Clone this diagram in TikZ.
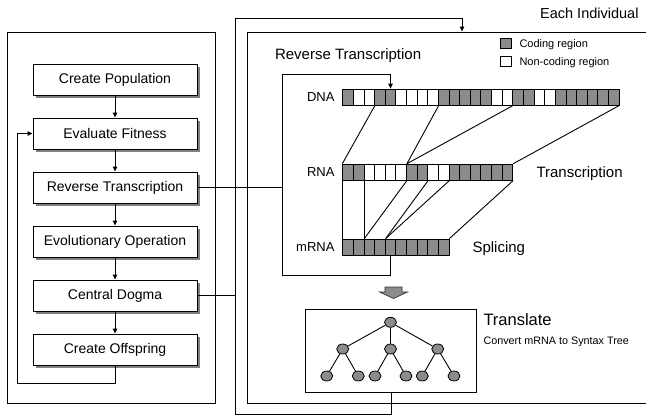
\documentclass[tikz,border=0pt]{standalone}
\usepackage{fontspec}
\setmainfont{Liberation Sans}
\usetikzlibrary{arrows.meta,shadows,shapes.geometric}
\definecolor{codegray}{gray}{0.55}
\colorlet{cG}{codegray}
\colorlet{cW}{white}
\begin{document}
\begin{tikzpicture}[x=1pt,y=-1pt,line width=1pt,
  stepbox/.style={draw,fill=white,minimum width=164pt,minimum height=31pt,inner sep=0pt,
    font=\fontsize{14}{16}\selectfont,
    drop shadow={shadow xshift=3pt,shadow yshift=-3pt,fill=black!50,opacity=1}},
  arr/.style={-{Triangle[length=5pt,width=4.5pt]}},
  cell/.style={draw,minimum width=10.63pt,minimum height=16pt,inner sep=0pt,line width=0.8pt},
  tnode/.style={draw,ellipse,fill=codegray,minimum width=12pt,minimum height=10pt,inner sep=0pt,line width=0.8pt},
  frame/.style={draw,anchor=north west,inner sep=0pt},
  biglbl/.style={font=\fontsize{15}{17}\selectfont,inner sep=0pt},
  strandlbl/.style={font=\fontsize{13}{15}\selectfont,inner sep=0pt,anchor=base east},
  smalllbl/.style={font=\fontsize{11}{13}\selectfont,inner sep=0pt,anchor=base west},
  legbox/.style={draw,minimum width=11pt,minimum height=10pt,inner sep=0pt,line width=0.8pt},
  link/.style={line width=0.9pt}]
\useasboundingbox (0,0) rectangle (646,416);
\clip (0,0) rectangle (646,416);

% left frame and step boxes
\node[frame,minimum width=208pt,minimum height=371pt] (lbox) at (7,32) {};
\node[stepbox] (cp) at (115,79.5) {Create Population};
\node[stepbox] (ef) at (115,133.5) {Evaluate Fitness};
\node[stepbox] (rt) at (115,187.5) {Reverse Transcription};
\node[stepbox] (eo) at (115,241.5) {Evolutionary Operation};
\node[stepbox] (cd) at (115,295.5) {Central Dogma};
\node[stepbox] (co) at (115,349.5) {Create Offspring};
\draw[arr] (cp) -- (ef);
\draw[arr] (ef) -- (rt);
\draw[arr] (rt) -- (eo);
\draw[arr] (eo) -- (cd);
\draw[arr] (cd) -- (co);
\coordinate (lp) at (17,383);
\draw[arr] (co.south) |- (lp) |- (ef.west);

% individual frame
\node[frame,minimum width=460pt,minimum height=371.5pt] (ind) at (247,31.5) {};
\node[font=\fontsize{14.5}{17}\selectfont,inner sep=0pt,anchor=base east] (eachlbl) at (639,18) {Each Individual};

% legend
\node[legbox,fill=codegray] (legG) at (505.75,43.5) {};
\node[legbox,fill=white] (legW) at (505.75,61) {};
\node[smalllbl] (legGt) at (519,47.5) {Coding region};
\node[smalllbl] (legWt) at (519,65) {Non-coding region};

% strands
\foreach \c [count=\i from 0] in {G,W,W,G,G,W,W,W,W,G,G,G,G,G,W,W,G,G,W,W,G,G,G,G,G,G}
  \node[cell,fill=c\c] (dna-\i) at ({348.015+\i*10.63},97) {};
\foreach \c [count=\i from 0] in {G,G,W,W,W,W,G,G,W,W,G,G,G,G,G,G}
  \node[cell,fill=c\c] (rna-\i) at ({348.015+\i*10.63},172.15) {};
\foreach \c [count=\i from 0] in {G,G,G,G,G,G,G,G,G,G}
  \node[cell,fill=c\c] (mrna-\i) at ({348.015+\i*10.63},247) {};

\node[strandlbl] (dnalbl) at (335,101.7) {DNA};
\node[strandlbl] (rnalbl) at (335,176.8) {RNA};
\node[strandlbl] (mrnalbl) at (335,251.7) {mRNA};

% DNA -> RNA
\draw[link] (dna-2.south east) -- (rna-0.north west);
\draw[link] (dna-8.south east) -- (rna-5.north east);
\draw[link] (dna-15.south east) -- (rna-5.north east);
\draw[link] (dna-25.south east) -- (rna-15.north east);
% RNA -> mRNA
\draw[link] (rna-0.south west) -- (mrna-0.north west);
\draw[link] (rna-1.south east) -- (mrna-1.north east);
\draw[link] (rna-5.south east) -- (mrna-1.north east);
\draw[link] (rna-7.south east) -- (mrna-3.north east);
\draw[link] (rna-9.south east) -- (mrna-3.north east);
\draw[link] (rna-15.south east) -- (mrna-9.north east);

\node[biglbl,anchor=base west] (rtlbl) at (274.5,59) {Reverse Transcription};
\node[biglbl,anchor=base west] (trlbl) at (536,177.5) {Transcription};
\node[biglbl,anchor=base west] (splbl) at (472,252) {Splicing};

% reverse transcription loop
\coordinate (rtBL) at (282,275);
\coordinate (rtTL) at (282,74);
\draw[arr] (mrna-4.south) |- (rtBL) -- (rtTL) -- (dna-4.north |- rtTL) -- (dna-4.north);
\draw (rt.east) -- (rt.east -| rtTL);

% block arrow
\filldraw[fill=codegray,draw=black!80,line width=0.7pt]
  (385,287) -- (402,287) -- (402,292) -- (407.5,292) -- (393.5,298.5) -- (379.5,292) -- (385,292) -- cycle;

% tree
\node[frame,minimum width=171pt,minimum height=83.3pt] (tbox) at (305,309) {};
\node[tnode] (t0) at (390.5,322.3) {};
\node[tnode] (t1) at (342.7,349) {};
\node[tnode] (t2) at (390.5,349) {};
\node[tnode] (t3) at (437.7,349) {};
\node[tnode] (t4) at (326.7,376) {};
\node[tnode] (t5) at (358.3,376) {};
\node[tnode] (t6) at (375,376) {};
\node[tnode] (t7) at (406,376) {};
\node[tnode] (t8) at (422.3,376) {};
\node[tnode] (t9) at (454,376) {};
\foreach \a/\b in {t0/t1,t0/t2,t0/t3,t1/t4,t1/t5,t2/t6,t2/t7,t3/t8,t3/t9}
  \draw[link] (\a) -- (\b);
\node[font=\fontsize{16.5}{19}\selectfont,inner sep=0pt,anchor=base west] (trnlbl) at (483,325.5) {Translate};
\node[font=\fontsize{10.8}{13}\selectfont,inner sep=0pt,anchor=base west] (cvlbl) at (483,344) {Convert mRNA to Syntax Tree};

% outer loop
\coordinate (oBL) at (235.5,414);
\coordinate (oTL) at (235.5,18);
\coordinate (indIn) at (462,31.5);
\draw[arr] (tbox.south) -- (tbox.south |- oBL) -- (oBL) -- (oTL) -- (oTL -| indIn) -- (indIn);
\draw (cd.east) -- (cd.east -| oTL);
\end{tikzpicture}
\end{document}
